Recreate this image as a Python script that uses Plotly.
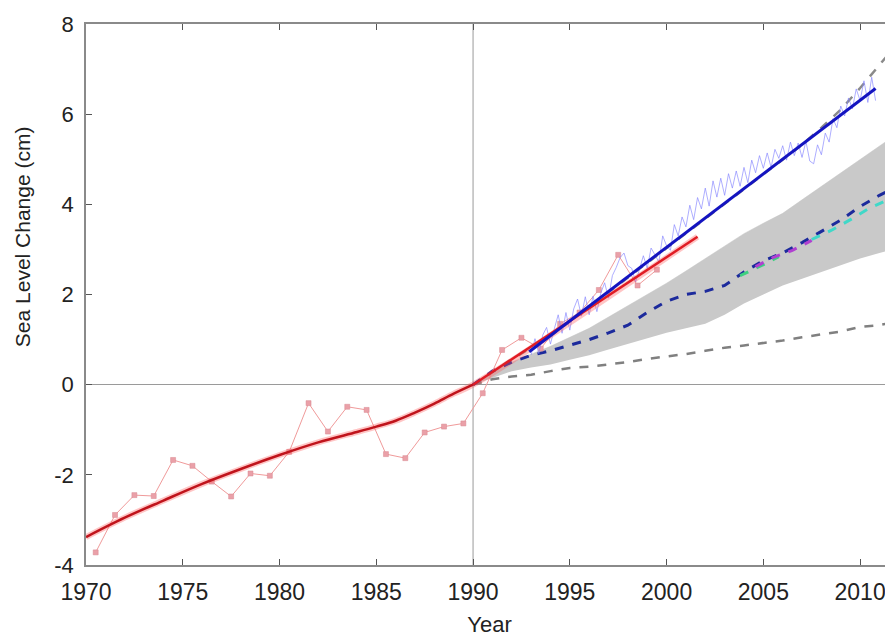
import numpy as np
import plotly.graph_objects as go

# ---------------- data ----------------
REF_YEAR = 1990

# tide-gauge annual values (pink, markers)
tg_years = [1970.5, 1971.5, 1972.5, 1973.5, 1974.5, 1975.5, 1976.5, 1977.5, 1978.5, 1979.5,
            1980.5, 1981.5, 1982.5, 1983.5, 1984.5, 1985.5, 1986.5, 1987.5, 1988.5, 1989.5,
            1990.5, 1991.5, 1992.5, 1993.5, 1994.5, 1995.5, 1996.5, 1997.5, 1998.5, 1999.5]
tg_values = [-3.72, -2.89, -2.45, -2.47, -1.67, -1.80, -2.15, -2.48, -1.97, -2.02,
             -1.49, -0.41, -1.04, -0.49, -0.56, -1.54, -1.63, -1.06, -0.93, -0.86,
             -0.19, 0.77, 1.04, 0.80, 1.35, 1.60, 2.10, 2.88, 2.20, 2.55]

# smoothed tide-gauge curve (red)
smooth_years = [1970, 1972, 1974, 1976, 1978, 1980, 1982, 1984, 1985, 1986, 1987, 1988, 1989, 1990]
smooth_values = [-3.38, -2.95, -2.57, -2.20, -1.87, -1.56, -1.28, -1.05, -0.93, -0.80, -0.62, -0.42, -0.20, 0.0]

# tide-gauge trend after 1990 (red straight)
tg_trend_years = [1990, 2001.6]
tg_trend_values = [0.0, 3.28]

# satellite altimetry (light blue, noisy) and its trend (blue)
sat_start, sat_step = 1993.0, 0.2
sat_values = [0.66, 1.02, 0.69, 1.10, 1.27, 0.90, 1.24, 1.55, 1.14, 1.60,
              1.21, 1.68, 1.90, 1.52, 1.95, 1.55, 1.96, 1.62, 2.03, 2.26,
              1.92, 2.42, 2.60, 2.82, 2.92, 2.64, 2.58, 2.28, 2.56, 2.86,
              2.58, 3.03, 2.88, 2.72, 3.30, 3.08, 2.98, 3.55, 3.30, 3.72,
              3.50, 3.98, 3.66, 4.15, 3.90, 4.36, 3.96, 4.52, 4.16, 4.58,
              4.20, 4.68, 4.36, 4.74, 4.40, 4.82, 4.48, 4.98, 4.70, 5.08,
              4.80, 5.14, 4.82, 5.22, 5.02, 5.30, 4.98, 5.38, 5.08, 5.36,
              5.04, 5.40, 4.96, 4.90, 5.32, 5.10, 5.58, 5.38, 5.90, 5.70,
              6.18, 5.96, 6.36, 6.12, 6.56, 6.30, 6.74, 6.26, 6.82, 6.30]
sat_trend_years = [1992.9, 2010.8]
sat_trend_values = [0.73, 6.57]

# projections
proj_years = [1990, 1991, 1992, 1993, 1994, 1995, 1996, 1997, 1998, 1999, 2000, 2001,
              2002, 2003, 2004, 2005, 2006, 2007, 2008, 2009, 2010, 2011, 2011.7]
proj_central = [0.0, 0.30, 0.50, 0.65, 0.75, 0.88, 1.00, 1.15, 1.32, 1.60, 1.85, 2.00,
                2.07, 2.20, 2.50, 2.75, 2.92, 3.15, 3.40, 3.65, 3.95, 4.20, 4.35]
band_lower = [0.0, 0.15, 0.30, 0.38, 0.45, 0.55, 0.65, 0.78, 0.90, 1.02, 1.15, 1.25,
              1.35, 1.55, 1.80, 2.00, 2.20, 2.35, 2.50, 2.65, 2.80, 2.92, 3.00]
band_upper = [0.0, 0.28, 0.50, 0.68, 0.85, 1.05, 1.25, 1.50, 1.75, 2.00, 2.25, 2.52,
              2.80, 3.07, 3.35, 3.58, 3.80, 4.10, 4.40, 4.70, 5.00, 5.30, 5.50]
proj_low = [0.0, 0.12, 0.18, 0.22, 0.30, 0.37, 0.40, 0.45, 0.50, 0.57, 0.62, 0.68,
            0.75, 0.82, 0.87, 0.92, 0.98, 1.05, 1.12, 1.18, 1.28, 1.32, 1.38]
proj_high = [0.0, 0.28, 0.56, 0.82, 1.08, 1.40, 1.72, 2.05, 2.37, 2.70, 3.03, 3.35,
             3.68, 4.01, 4.34, 4.66, 4.99, 5.32, 5.70, 6.10, 6.58, 7.08, 7.45]

# scenario segments
green_years = [2003.8, 2004.5, 2005.0, 2005.8]
green_values = [2.42, 2.56, 2.66, 2.84]
magenta_years = [2004.6, 2005.5, 2006.5, 2007.5]
magenta_values = [2.62, 2.82, 2.98, 3.20]
cyan_years = [2007.5, 2008.5, 2009.5, 2010.5, 2011.7]
cyan_values = [3.22, 3.42, 3.66, 3.92, 4.15]

x_ticks = [1970, 1975, 1980, 1985, 1990, 1995, 2000, 2005, 2010]
y_ticks = [-4, -2, 0, 2, 4, 6, 8]
y_tick_text = ["-4", "-2", "0", "2", "4", "6", "8"]

# ---------------- figure ----------------
sat_years = list(np.round(sat_start + sat_step * np.arange(len(sat_values)), 2))

fig = go.Figure()

fig.add_trace(go.Scatter(x=proj_years, y=band_lower, mode="lines",
                         line=dict(color="rgba(0,0,0,0)", width=0), showlegend=False))
fig.add_trace(go.Scatter(x=proj_years, y=band_upper, mode="lines", fill="tonexty",
                         fillcolor="#c9c9c9", line=dict(color="#c4c4c4", width=0.5),
                         showlegend=False))

fig.add_trace(go.Scatter(x=proj_years, y=proj_low, mode="lines",
                         line=dict(color="#808080", width=2.5, dash="dash"), showlegend=False))
fig.add_trace(go.Scatter(x=proj_years, y=proj_high, mode="lines",
                         line=dict(color="#8a8a8a", width=2.5, dash="dash"), showlegend=False))
fig.add_trace(go.Scatter(x=proj_years, y=proj_central, mode="lines",
                         line=dict(color="#1c2a9c", width=3, dash="dash"), showlegend=False))
fig.add_trace(go.Scatter(x=green_years, y=green_values, mode="lines",
                         line=dict(color="#3fd080", width=3, dash="dash"), showlegend=False))
fig.add_trace(go.Scatter(x=magenta_years, y=magenta_values, mode="lines",
                         line=dict(color="#b040d0", width=3, dash="dash"), showlegend=False))
fig.add_trace(go.Scatter(x=cyan_years, y=cyan_values, mode="lines",
                         line=dict(color="#40d8c8", width=3, dash="dash"), showlegend=False))

fig.add_trace(go.Scatter(x=tg_years, y=tg_values, mode="lines+markers",
                         line=dict(color="#f09a9a", width=1),
                         marker=dict(symbol="square", size=5, color="#eaa0a8",
                                     line=dict(color="#d88890", width=0.5)),
                         showlegend=False))

fig.add_trace(go.Scatter(x=sat_years, y=sat_values, mode="lines",
                         line=dict(color="rgba(130,130,255,0.65)", width=1), showlegend=False))

# red smooth curve with soft glow
fig.add_trace(go.Scatter(x=smooth_years + tg_trend_years[1:], y=smooth_values + tg_trend_values[1:],
                         mode="lines", line=dict(color="rgba(255,90,90,0.35)", width=6, shape="spline"),
                         showlegend=False))
fig.add_trace(go.Scatter(x=smooth_years, y=smooth_values, mode="lines",
                         line=dict(color="#c0141c", width=2.5, shape="spline"), showlegend=False))
fig.add_trace(go.Scatter(x=tg_trend_years, y=tg_trend_values, mode="lines",
                         line=dict(color="#e01c24", width=2.5), showlegend=False))

fig.add_trace(go.Scatter(x=sat_trend_years, y=sat_trend_values, mode="lines",
                         line=dict(color="#1414c0", width=3), showlegend=False))

fig.add_vline(x=REF_YEAR, line=dict(color="#9a9a9a", width=1), layer="below")

font_family = "Liberation Sans, Arial, sans-serif"
fig.update_layout(
    width=885, height=629,
    margin=dict(l=78, r=0, t=16, b=72),
    paper_bgcolor="white", plot_bgcolor="white",
    font=dict(family=font_family, size=22, color="#222222"),
    showlegend=False,
    xaxis=dict(range=[1970, 2011.7], tickvals=x_ticks, ticks="inside", ticklen=6,
               tickcolor="#555555", showline=True, linecolor="#8a8a8a", linewidth=1.5,
               mirror="ticks", showgrid=False, zeroline=False, automargin=False,
               ticklabelstandoff=6, tickfont=dict(size=23),
               title=dict(text="Year", font=dict(size=22), standoff=16)),
    yaxis=dict(range=[-4, 8], tickvals=y_ticks, ticktext=y_tick_text, ticks="inside", ticklen=6,
               tickcolor="#555555", showline=True, linecolor="#8a8a8a", linewidth=1.5,
               mirror="ticks", showgrid=False, zeroline=True, zerolinecolor="#9a9a9a",
               zerolinewidth=1, automargin=False, ticklabelstandoff=6, tickfont=dict(size=22)),
    annotations=[dict(text="Sea Level Change (cm)", xref="paper", yref="paper",
                      x=-0.0793, y=0.606, textangle=-90, showarrow=False,
                      xanchor="center", yanchor="middle", font=dict(size=21))],
)

fig.write_html("out.html")
